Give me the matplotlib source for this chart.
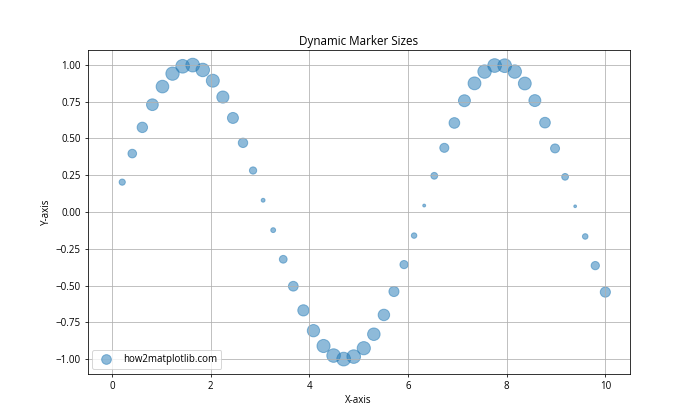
import matplotlib
matplotlib.use("Agg")
import matplotlib.pyplot as plt

# values
x = [0.000, 0.204, 0.408, 0.612, 0.816, 1.020, 1.224, 1.429, 1.633, 1.837,
     2.041, 2.245, 2.449, 2.653, 2.857, 3.061, 3.265, 3.469, 3.673, 3.878,
     4.082, 4.286, 4.490, 4.694, 4.898, 5.102, 5.306, 5.510, 5.714, 5.918,
     6.122, 6.327, 6.531, 6.735, 6.939, 7.143, 7.347, 7.551, 7.755, 7.959,
     8.163, 8.367, 8.571, 8.776, 8.980, 9.184, 9.388, 9.592, 9.796, 10.000]
y = [0.000, 0.203, 0.397, 0.575, 0.729, 0.852, 0.940, 0.990, 0.998, 0.965,
     0.892, 0.781, 0.639, 0.470, 0.282, 0.080, -0.123, -0.321, -0.504, -0.668,
     -0.806, -0.910, -0.975, -0.999, -0.982, -0.925, -0.830, -0.699, -0.540, -0.357,
     -0.160, 0.044, 0.246, 0.436, 0.605, 0.756, 0.874, 0.954, 0.995, 0.994,
     0.954, 0.873, 0.757, 0.607, 0.432, 0.239, 0.039, -0.166, -0.364, -0.544]
sizes = [0, 41, 79, 115, 146, 170, 188, 198, 200, 193,
         178, 156, 128, 94, 56, 16, 25, 64, 101, 134,
         161, 182, 195, 200, 196, 185, 166, 140, 108, 71,
         32, 9, 49, 87, 121, 151, 175, 191, 199, 199,
         191, 175, 151, 121, 86, 48, 8, 33, 73, 109]

plt.rcParams["font.family"] = ["Open Sans", "DejaVu Sans"]

fig, ax = plt.subplots(figsize=(10, 6), dpi=70)
ax.scatter(x, y, s=sizes, alpha=0.5, label="how2matplotlib.com")
ax.set_title("Dynamic Marker Sizes")
ax.set_xlabel("X-axis")
ax.set_ylabel("Y-axis")
ax.legend(loc="lower left")
ax.grid(True)

fig.savefig("out.png", dpi=70)
plt.close(fig)
